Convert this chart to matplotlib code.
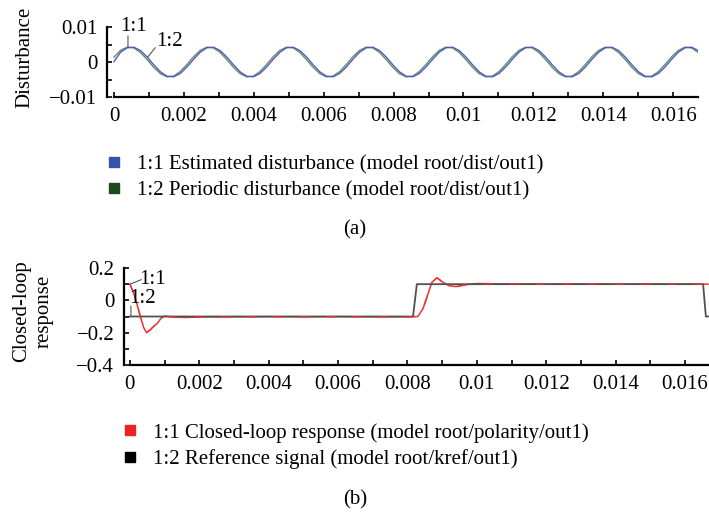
import numpy as np
import matplotlib
matplotlib.use('Agg')
import matplotlib.pyplot as plt
from matplotlib.lines import Line2D

plt.rcParams['font.family'] = ['Liberation Serif', 'DejaVu Serif']
plt.rcParams['font.size'] = 15

pas_dist = 0.00019
t_dist = np.arange(89) * pas_dist

dist_estimee = [
    0.0001, 0.00282, 0.00407, 0.00422, 0.00325, 0.0014, -0.00082, -0.00282, -0.00407, -0.00422, -0.00325, -0.0014,
    0.00082, 0.00282, 0.00407, 0.00422, 0.00325, 0.0014, -0.00082, -0.00282, -0.00407, -0.00422, -0.00325, -0.0014,
    0.00082, 0.00282, 0.00407, 0.00422, 0.00325, 0.0014, -0.00082, -0.00282, -0.00407, -0.00422, -0.00325, -0.0014,
    0.00082, 0.00282, 0.00407, 0.00422, 0.00325, 0.0014, -0.00082, -0.00282, -0.00407, -0.00422, -0.00325, -0.0014,
    0.00082, 0.00282, 0.00407, 0.00422, 0.00325, 0.0014, -0.00082, -0.00282, -0.00407, -0.00422, -0.00325, -0.0014,
    0.00082, 0.00282, 0.00407, 0.00422, 0.00325, 0.0014, -0.00082, -0.00282, -0.00407, -0.00422, -0.00325, -0.0014,
    0.00082, 0.00282, 0.00407, 0.00422, 0.00325, 0.0014, -0.00082, -0.00282, -0.00407, -0.00422, -0.00325, -0.0014,
    0.00082, 0.00282, 0.00407, 0.00422, 0.00325,
]
dist_periodique = [
    0.0014, 0.00334, 0.00425, 0.00402, 0.0027, 0.00067, -0.00154, -0.00334, -0.00425, -0.00402, -0.0027, -0.00067,
    0.00154, 0.00334, 0.00425, 0.00402, 0.0027, 0.00067, -0.00154, -0.00334, -0.00425, -0.00402, -0.0027, -0.00067,
    0.00154, 0.00334, 0.00425, 0.00402, 0.0027, 0.00067, -0.00154, -0.00334, -0.00425, -0.00402, -0.0027, -0.00067,
    0.00154, 0.00334, 0.00425, 0.00402, 0.0027, 0.00067, -0.00154, -0.00334, -0.00425, -0.00402, -0.0027, -0.00067,
    0.00154, 0.00334, 0.00425, 0.00402, 0.0027, 0.00067, -0.00154, -0.00334, -0.00425, -0.00402, -0.0027, -0.00067,
    0.00154, 0.00334, 0.00425, 0.00402, 0.0027, 0.00067, -0.00154, -0.00334, -0.00425, -0.00402, -0.0027, -0.00067,
    0.00154, 0.00334, 0.00425, 0.00402, 0.0027, 0.00067, -0.00154, -0.00334, -0.00425, -0.00402, -0.0027, -0.00067,
    0.00154, 0.00334, 0.00425, 0.00402, 0.0027,
]

# (b) réponse en boucle fermée
t_rep = [0, 0.0001, 0.0002, 0.0003, 0.0004, 0.00048, 0.0006, 0.00065, 0.0008, 0.0009,
         0.001, 0.0013, 0.0016, 0.002, 0.003, 0.004, 0.005, 0.006, 0.007, 0.008,
         0.0083, 0.00845, 0.0086, 0.0087, 0.00885, 0.009, 0.0092, 0.0094, 0.0097, 0.01,
         0.011, 0.012, 0.013, 0.014, 0.015, 0.016, 0.01666]
reponse = [0.1, 0.05, -0.02, -0.1, -0.17, -0.2, -0.18, -0.168, -0.14, -0.11,
           -0.098, -0.104, -0.106, -0.103, -0.102, -0.101, -0.102, -0.101, -0.102, -0.102,
           -0.1, -0.05, 0.045, 0.11, 0.14, 0.115, 0.09, 0.085, 0.097, 0.104,
           0.101, 0.1, 0.101, 0.1, 0.101, 0.1, 0.1]
t_ref = [0, 0.00816, 0.00827, 0.01652, 0.0166, 0.01669]
reference = [-0.1, -0.1, 0.1, 0.1, -0.1, -0.1]

x_ticks = [0, 0.002, 0.004, 0.006, 0.008, 0.01, 0.012, 0.014, 0.016]
x_labels = ["0", "0.002", "0.004", "0.006", "0.008", "0.01", "0.012", "0.014", "0.016"]
x_minor = [0.001, 0.003, 0.005, 0.007, 0.009, 0.011, 0.013, 0.015]
ya_ticks = [-0.01, 0, 0.01]
ya_labels = ["\u22120.01", "0", "0.01"]
ya_minor = [-0.005, 0.005]
yb_ticks = [-0.4, -0.2, 0, 0.2]
yb_labels = ["\u22120.4", "\u22120.2", "0", "0.2"]
yb_minor = [-0.3, -0.1, 0.1]

c_bleu = "#4a5cc4"
c_vert = "#6b8c62"
c_rouge = "#f03030"
c_noir = "#505050"


def style_axe(ax):
    """Axes détachés à la manière Mathematica"""
    for s in ["top", "right"]:
        ax.spines[s].set_visible(False)
    for s in ["left", "bottom"]:
        ax.spines[s].set_linewidth(1.6)
    ax.tick_params(which="both", direction="in", length=3.5, width=1.2, pad=7)


fig = plt.figure(figsize=(7.09, 5.13), dpi=100)

# graphique (a)
ax1 = fig.add_axes([107 / 709, 1 - 97 / 513, 591 / 709, 70 / 513])
ax1.plot(t_dist, dist_periodique, color=c_vert, linewidth=1.0)
ax1.plot(t_dist, dist_estimee, color=c_bleu, linewidth=1.0)
ax1.set_xlim(-0.0002, 0.01671)
ax1.set_ylim(-0.01, 0.01)
style_axe(ax1)
ax1.spines["bottom"].set_bounds(0, 0.01671)
ax1.set_xticks(x_ticks, x_labels)
ax1.set_xticks(x_minor, minor=True)
ax1.set_yticks(ya_ticks, ya_labels)
ax1.set_yticks(ya_minor, minor=True)

ax1.text(0.00057, 0.0101, "1:1", ha="center", va="center")
ax1.annotate("", xy=(0.0004, 0.00435), xytext=(0.0004, 0.0075),
             arrowprops=dict(arrowstyle="-", color="#555555", lw=0.8, shrinkA=0, shrinkB=0))
ax1.text(0.0016, 0.0058, "1:2", ha="center", va="center")
ax1.annotate("", xy=(0.00097, 0.00145), xytext=(0.00118, 0.0041),
             arrowprops=dict(arrowstyle="-", color="#555555", lw=0.8, shrinkA=0, shrinkB=0))

fig.text(25 / 709, 1 - 57 / 513, "Disturbance", rotation=90, ha="center", va="center")

poignees_a = [Line2D([], [], marker="s", linestyle="", color="#3553a8", markersize=7),
              Line2D([], [], marker="s", linestyle="", color="#1c4a1e", markersize=7)]
fig.legend(poignees_a,
           ["1:1 Estimated disturbance (model root/dist/out1)",
            "1:2 Periodic disturbance (model root/dist/out1)"],
           loc="upper left", bbox_to_anchor=(104 / 709, 1 - 155 / 513),
           frameon=False, borderpad=0, handlelength=1.0, handletextpad=0.6,
           labelspacing=0.3, borderaxespad=0)
fig.text(355 / 709, 1 - 230 / 513, "(a)", ha="center", va="center")

# graphique (b)
ax2 = fig.add_axes([124 / 709, 1 - 365 / 513, 585 / 709, 97 / 513])
ax2.plot(t_rep, reponse, color=c_rouge, linewidth=1.1, zorder=1)
ax2.plot(t_ref, reference, color=c_noir, linewidth=1.3, zorder=2)
# la réponse repasse en tirets par-dessus la consigne, comme sur l'original
ax2.plot(t_rep, reponse, color=c_rouge, linewidth=1.0, zorder=3,
         linestyle=(0, (7, 12)), alpha=0.85)
ax2.set_xlim(-0.00017, 0.01669)
ax2.set_ylim(-0.4, 0.2)
style_axe(ax2)
ax2.spines["bottom"].set_bounds(0, 0.01669)
ax2.set_xticks(x_ticks, x_labels)
ax2.set_xticks(x_minor, minor=True)
ax2.set_yticks(yb_ticks, yb_labels)
ax2.set_yticks(yb_minor, minor=True)

ax2.text(0.00066, 0.126, "1:1", ha="center", va="center")
ax2.annotate("", xy=(0.0, 0.1), xytext=(0.00033, 0.128),
             arrowprops=dict(arrowstyle="-", color="#555555", lw=0.8, shrinkA=0, shrinkB=0))
ax2.text(0.00037, 0.01, "1:2", ha="center", va="center")
ax2.annotate("", xy=(0.00003, -0.1), xytext=(0.00003, -0.035),
             arrowprops=dict(arrowstyle="-", color="#555555", lw=0.8, shrinkA=0, shrinkB=0))

fig.text(33 / 709, 1 - 311 / 513, "Closed-loop\nresponse", rotation=90,
         ha="center", va="center", multialignment="center")

poignees_b = [Line2D([], [], marker="s", linestyle="", color="#ee2222", markersize=7),
              Line2D([], [], marker="s", linestyle="", color="#000000", markersize=7)]
fig.legend(poignees_b,
           ["1:1 Closed-loop response (model root/polarity/out1)",
            "1:2 Reference signal (model root/kref/out1)"],
           loc="upper left", bbox_to_anchor=(120 / 709, 1 - 423 / 513),
           frameon=False, borderpad=0, handlelength=1.0, handletextpad=0.6,
           labelspacing=0.3, borderaxespad=0)
fig.text(355 / 709, 1 - 500 / 513, "(b)", ha="center", va="center")

fig.savefig("out.png", dpi=100)
plt.close(fig)
